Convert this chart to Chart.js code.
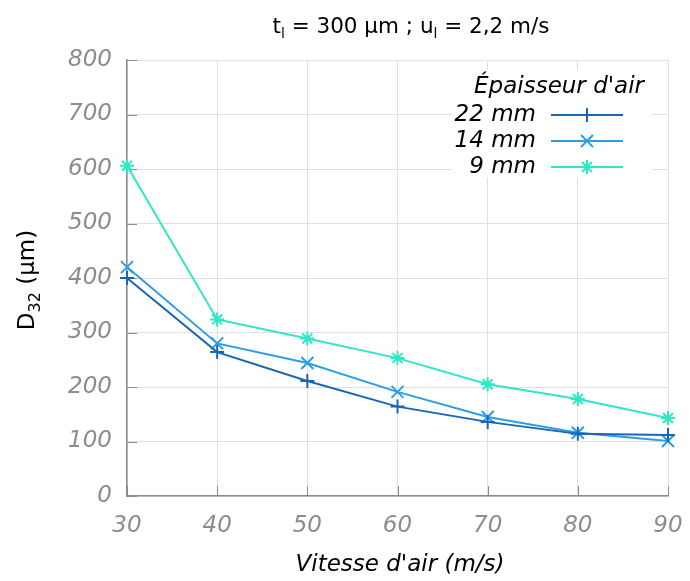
<!DOCTYPE html>
<html>
<head>
<meta charset="utf-8">
<script src="https://cdn.jsdelivr.net/npm/chart.js@4/dist/chart.umd.min.js"></script>
<style>
	html, body { margin: 0; padding: 0; background: #fff; }
	#wrap { width: 690px; height: 581px; }
</style>
</head>
<body>
<div id="wrap"><canvas id="c" width="690" height="581"></canvas></div>
<script>
/* D32 vs air velocity, three air-gap thicknesses */
var vitesses = [30, 40, 50, 60, 70, 80, 90];
var d22 = [400, 264, 211, 164, 136, 114, 112];
var d14 = [420, 280, 244, 191, 145, 116, 101];
var d9 = [606, 324, 289, 253, 205, 178, 143];
var seriesLabels = ["22 mm", "14 mm", "9 mm"];
var seriesColors = ["#1a66b4", "#2b9ee6", "#2fe6c6"];
var seriesMarkers = ["cross", "crossRot", "star"];
var markerSizes = [7, 8.5, 7];
var legendTitle = "Épaisseur d'air";
var xTitle = "Vitesse d'air (m/s)";

var FONT = "'DejaVu Sans', sans-serif";
var GREY = "#8c8c8c";

function pts(vals) {
	return vals.map(function (v, i) { return { x: vitesses[i], y: v }; });
}

function dataset(i, vals) {
	return {
		label: seriesLabels[i],
		data: pts(vals),
		borderColor: seriesColors[i],
		backgroundColor: seriesColors[i],
		borderWidth: 2,
		pointStyle: seriesMarkers[i],
		pointRadius: markerSizes[i],
		pointBorderWidth: 2,
		tension: 0,
		clip: false,
	};
}

// draw a run of [text, font, dy] pieces centred on cx
function drawRuns(ctx, parts, cx, cy) {
	var total = 0;
	parts.forEach(function (p) { ctx.font = p[1]; total += ctx.measureText(p[0]).width; });
	var x0 = cx - total / 2;
	parts.forEach(function (p) {
		ctx.font = p[1];
		ctx.fillText(p[0], x0, cy + p[2]);
		x0 += ctx.measureText(p[0]).width;
	});
}

/* title, y label with subscript, inward ticks and the boxed legend */
var decor = {
	id: "decor",
	beforeDatasetsDraw: function (chart) {
		var ctx = chart.ctx;
		var area = chart.chartArea;
		var xs = chart.scales.x, ys = chart.scales.y;
		ctx.save();
		// inward tick marks
		ctx.strokeStyle = GREY;
		ctx.lineWidth = 1;
		ctx.beginPath();
		ys.ticks.forEach(function (t) {
			var y = Math.round(ys.getPixelForValue(t.value)) + 0.5;
			ctx.moveTo(area.left, y); ctx.lineTo(area.left + 10, y);
		});
		xs.ticks.forEach(function (t) {
			var x = Math.round(xs.getPixelForValue(t.value)) + 0.5;
			ctx.moveTo(x, area.bottom); ctx.lineTo(x, area.bottom - 10);
		});
		ctx.stroke();
		ctx.restore();
	},
	afterDraw: function (chart) {
		var ctx = chart.ctx;
		ctx.save();
		ctx.fillStyle = "#000";
		ctx.textAlign = "left";
		ctx.textBaseline = "alphabetic";

		// title with subscripts
		var big = "21.5px " + FONT, small = "14px " + FONT;
		drawRuns(ctx, [["t", big, 0], ["l", small, 5], [" = 300 µm ; u", big, 0], ["l", small, 5], [" = 2,2 m/s", big, 0]], 411, 33);

		// y axis title, rotated
		ctx.save();
		ctx.translate(34, 280);
		ctx.rotate(-Math.PI / 2);
		drawRuns(ctx, [["D", "23px " + FONT, 0], ["32", "16px " + FONT, 6], [" (µm)", "23px " + FONT, 0]], 0, 0);
		ctx.restore();

		// x axis title
		ctx.font = "italic 23px " + FONT;
		ctx.textAlign = "center";
		ctx.textBaseline = "middle";
		ctx.fillText(xTitle, 400, 565);

		// legend
		ctx.fillStyle = "#fff";
		ctx.fillRect(452, 70, 200, 108);
		ctx.fillStyle = "#000";
		ctx.textAlign = "right";
		ctx.fillText(legendTitle, 644, 87);
		chart.data.datasets.forEach(function (ds, i) {
			var y = 115 + i * 26;
			ctx.fillStyle = "#000";
			ctx.textAlign = "right";
			ctx.fillText(ds.label, 536, y);
			ctx.strokeStyle = ds.borderColor;
			ctx.lineWidth = 2;
			ctx.beginPath();
			ctx.moveTo(551, y); ctx.lineTo(623, y);
			ctx.stroke();
			Chart.helpers.drawPoint(ctx, { pointStyle: ds.pointStyle, radius: ds.pointRadius, rotation: 0, borderWidth: 2 }, 587, y);
		});

		ctx.restore();
	},
};

new Chart(document.getElementById("c"), {
	type: "line",
	data: {
		datasets: [dataset(0, d22), dataset(1, d14), dataset(2, d9)],
	},
	options: {
		responsive: false,
		animation: false,
		layout: { padding: { left: 0, right: 22, top: 60, bottom: 0 } },
		plugins: { legend: { display: false }, tooltip: { enabled: false } },
		scales: {
			x: {
				type: "linear",
				min: 30,
				max: 90,
				grid: { color: "#e0e0e0", drawTicks: false },
				border: { color: GREY, width: 1.5 },
				ticks: { stepSize: 10, color: GREY, padding: 16, font: { family: FONT, size: 23, style: "italic" } },
				afterFit: function (s) { s.height = 85; s.paddingLeft = 0; s.paddingRight = 0; },
			},
			y: {
				min: 0,
				max: 800,
				grid: { color: "#e0e0e0", drawTicks: false },
				border: { color: GREY, width: 1.5 },
				ticks: { stepSize: 100, color: GREY, padding: 15, font: { family: FONT, size: 23, style: "italic" } },
				afterFit: function (s) { s.width = 127; s.paddingTop = 0; s.paddingBottom = 0; },
			},
		},
	},
	plugins: [decor],
});
</script>
</body>
</html>
